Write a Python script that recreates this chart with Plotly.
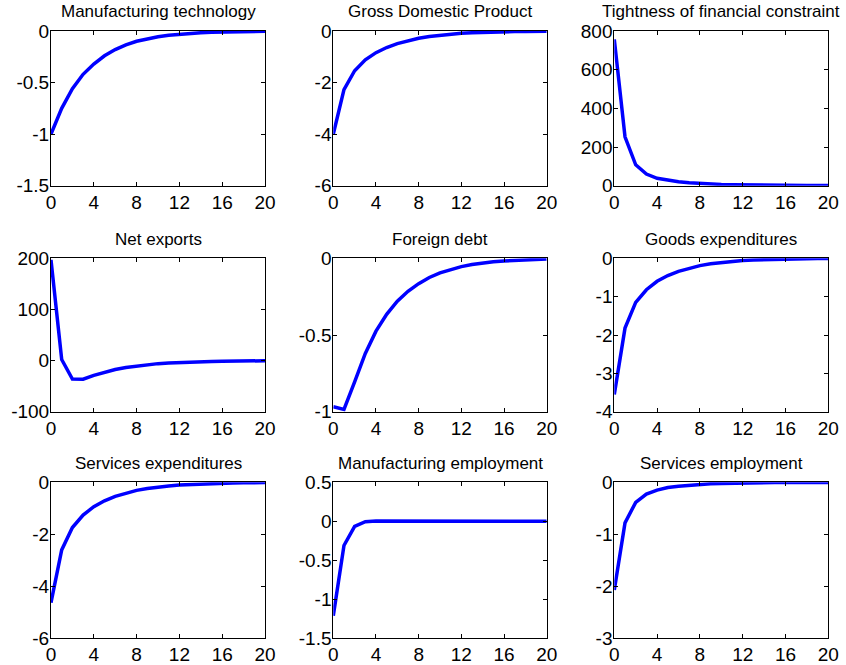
import plotly.graph_objects as go
from plotly.subplots import make_subplots

periods = list(range(21))

titles = ["Manufacturing technology", "Gross Domestic Product", "Tightness of financial constraint",
          "Net exports", "Foreign debt", "Goods expenditures",
          "Services expenditures", "Manufacturing employment", "Services employment"]

manufacturing_technology = [-1.0, -0.75, -0.56, -0.42, -0.32, -0.24, -0.18, -0.135, -0.10, -0.075, -0.056,
                            -0.042, -0.032, -0.024, -0.018, -0.013, -0.010, -0.0075, -0.0056, -0.0042, -0.0032]
gdp = [-4.0, -2.27, -1.54, -1.12, -0.84, -0.64, -0.49, -0.37, -0.28, -0.21, -0.16,
       -0.12, -0.09, -0.07, -0.05, -0.04, -0.03, -0.02, -0.016, -0.012, -0.009]
tightness = [757, 253, 108, 60, 38, 27, 20, 15, 11, 8.5, 6.5,
             5, 3.8, 2.9, 2.2, 1.7, 1.3, 1.0, 0.8, 0.6, 0.45]
net_exports = [197, 2, -36, -36.5, -29, -22.5, -17.5, -13.5, -10.5, -8, -6,
               -4.7, -3.6, -2.8, -2.1, -1.6, -1.2, -0.9, -0.7, -0.5, -0.4]
foreign_debt = [-0.968, -0.985, -0.805, -0.62, -0.475, -0.365, -0.28, -0.215, -0.165, -0.125, -0.095,
                -0.072, -0.054, -0.041, -0.031, -0.023, -0.017, -0.013, -0.010, -0.007, -0.005]
goods_expenditures = [-3.55, -1.82, -1.15, -0.82, -0.60, -0.45, -0.34, -0.26, -0.19, -0.145, -0.11,
                      -0.08, -0.06, -0.045, -0.034, -0.026, -0.02, -0.015, -0.011, -0.008, -0.006]
services_expenditures = [-4.63, -2.6, -1.74, -1.26, -0.94, -0.71, -0.54, -0.41, -0.31, -0.24, -0.18,
                         -0.14, -0.10, -0.08, -0.06, -0.045, -0.035, -0.026, -0.02, -0.015, -0.011]
manufacturing_employment = [-1.21, -0.31, -0.064, -0.005, 0.004, 0.004, 0.003, 0.003, 0.002, 0.002, 0.001,
                            0.001, 0.001, 0.001, 0.0, 0.0, 0.0, 0.0, 0.0, 0.0, 0.0]
services_employment = [-2.07, -0.78, -0.385, -0.225, -0.15, -0.10, -0.075, -0.055, -0.04, -0.03, -0.022,
                       -0.016, -0.012, -0.009, -0.007, -0.005, -0.004, -0.003, -0.0025, -0.002, -0.002]

series = [manufacturing_technology, gdp, tightness, net_exports, foreign_debt, goods_expenditures,
          services_expenditures, manufacturing_employment, services_employment]

x_ticks = [0, 4, 8, 12, 16, 20]
y_ticks = [
    [-1.5, -1, -0.5, 0],
    [-6, -4, -2, 0],
    [0, 200, 400, 600, 800],
    [-100, 0, 100, 200],
    [-1, -0.5, 0],
    [-4, -3, -2, -1, 0],
    [-6, -4, -2, 0],
    [-1.5, -1, -0.5, 0, 0.5],
    [-3, -2, -1, 0],
]
y_tick_text = [
    ["-1.5", "-1", "-0.5", "0"],
    ["-6", "-4", "-2", "0"],
    ["0", "200", "400", "600", "800"],
    ["-100", "0", "100", "200"],
    ["-1", "-0.5", "0"],
    ["-4", "-3", "-2", "-1", "0"],
    ["-6", "-4", "-2", "0"],
    ["-1.5", "-1", "-0.5", "0", "0.5"],
    ["-3", "-2", "-1", "0"],
]

W, H = 846, 665
col_px = [(51, 265), (333.3, 546.7), (614.3, 828.3)]
row_px = [(31, 185.7), (258.3, 411.7), (482.3, 638.3)]

fig = make_subplots(rows=3, cols=3)
font_family = "Liberation Sans, Arial, sans-serif"

for i, (vals, title) in enumerate(zip(series, titles)):
    r, c = divmod(i, 3)
    fig.add_trace(go.Scatter(x=periods, y=vals, mode="lines",
                             line=dict(color="#0000ff", width=3.5), showlegend=False),
                  row=r + 1, col=c + 1)
    x0, x1 = col_px[c]
    y0, y1 = row_px[r]
    ax = "" if i == 0 else str(i + 1)
    fig.layout["xaxis" + ax].update(
        domain=[x0 / W, x1 / W], range=[0, 20], tickvals=x_ticks,
        ticktext=[str(t) for t in x_ticks], ticklabelstandoff=-1,
        ticks="inside", ticklen=4, tickcolor="black", showline=True, linecolor="black",
        linewidth=1, mirror="ticks", showgrid=False, zeroline=False,
        tickfont=dict(size=19, color="black", family=font_family))
    ys = y_ticks[i]
    fig.layout["yaxis" + ax].update(
        domain=[1 - y1 / H, 1 - y0 / H], range=[ys[0], ys[-1]], tickvals=ys,
        ticktext=y_tick_text[i], ticklabelstandoff=-3,
        ticks="inside", ticklen=4, tickcolor="black", showline=True, linecolor="black",
        linewidth=1, mirror="ticks", showgrid=False, zeroline=False,
        tickfont=dict(size=19, color="black", family=font_family))
    fig.add_annotation(text=title, x=(x0 + x1) / 2 / W, y=1 - (y0 - 19) / H,
                       xref="paper", yref="paper", xanchor="center", yanchor="middle",
                       showarrow=False, font=dict(size=17, color="black", family=font_family))

fig.update_layout(width=W, height=H, margin=dict(l=0, r=0, t=0, b=0, autoexpand=False),
                  paper_bgcolor="white", plot_bgcolor="white")

fig.write_html("out.html")
